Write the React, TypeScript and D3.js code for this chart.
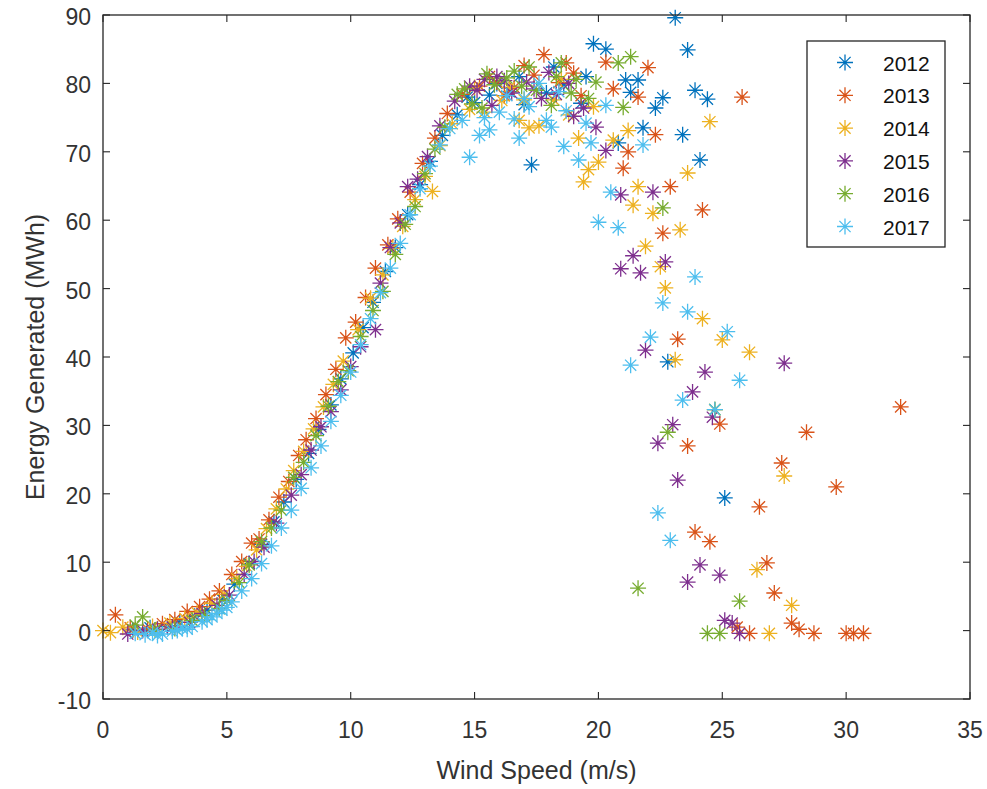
import * as d3 from "d3";
import { useEffect, useRef } from "react";

// MATLAB default colour order
const years = ["2012", "2013", "2014", "2015", "2016", "2017"];
const colors = ["#0072BD", "#D95319", "#EDB120", "#7E2F8E", "#77AC30", "#4DBEEE"];

// [wind speed m/s, energy MWh]
const s2012 = [
  [1.2, 0.1], [1.9, 0.4], [2.6, 0.6], [3.1, 1.2], [3.7, 2.1], [4.2, 3.0], [4.8, 4.6], [5.3, 6.8],
  [5.9, 9.8], [6.4, 12.6], [6.9, 15.9], [7.3, 18.8], [7.8, 22.1], [8.3, 25.9], [8.7, 29.4], [9.2, 33.0],
  [9.6, 36.8], [10.1, 40.6], [10.5, 44.3], [10.9, 48.0], [11.4, 52.5], [11.8, 56.0], [12.3, 60.8],
  [12.8, 65.2], [13.2, 68.6], [13.7, 72.4], [14.3, 75.4], [14.7, 78.0], [15.0, 77.2], [15.6, 78.3],
  [15.9, 80.0], [16.4, 78.8], [16.8, 81.0], [17.0, 76.9], [17.9, 78.6], [18.2, 82.4], [18.6, 79.8],
  [19.3, 77.1], [19.5, 81.0], [17.3, 68.1],
  [19.8, 85.8], [20.3, 85.0], [21.1, 80.5], [21.6, 80.5], [21.3, 78.7], [22.6, 77.9], [22.3, 76.4],
  [23.1, 89.6], [23.6, 84.9], [23.9, 79.0], [24.4, 77.7], [23.4, 72.5], [21.8, 73.5], [20.8, 71.3],
  [24.1, 68.8], [22.8, 39.3], [25.1, 19.4],
];
const s2013 = [
  [0.5, 2.3], [1.1, 0.4], [1.8, 0.2], [2.4, 1.0], [2.9, 1.6], [3.4, 2.8], [3.9, 3.5], [4.3, 4.6],
  [4.7, 5.8], [5.2, 8.2], [5.6, 10.1], [6.0, 12.8], [6.3, 13.4], [6.7, 16.2], [7.1, 19.5], [7.5, 21.8],
  [7.9, 25.6], [8.2, 27.9], [8.6, 31.0], [9.0, 34.5], [9.4, 38.2], [9.8, 42.8], [10.2, 45.1],
  [10.6, 48.7], [11.0, 53.0], [11.5, 56.4], [11.9, 60.2], [12.4, 64.1], [12.9, 68.3], [13.4, 72.0],
  [13.9, 75.6], [14.5, 78.4], [15.2, 79.6], [15.6, 81.0], [15.9, 80.2], [16.2, 78.2], [16.6, 79.4],
  [17.0, 82.6], [17.4, 81.2], [17.8, 84.2], [18.4, 80.1], [18.7, 83.0], [19.0, 81.5], [19.3, 78.2],
  [20.3, 83.1], [22.0, 82.3], [20.6, 79.2], [21.6, 78.0], [25.8, 78.0], [22.3, 72.5], [21.2, 70.0],
  [21.0, 67.6], [22.9, 64.9], [24.2, 61.5], [22.6, 58.1], [23.2, 42.6], [23.6, 27.0], [24.9, 30.2],
  [32.2, 32.7], [28.4, 29.0], [27.4, 24.5], [29.6, 21.0], [26.5, 18.1], [23.9, 14.4], [24.5, 13.0],
  [26.8, 9.9], [27.1, 5.5], [27.8, 1.1], [28.1, 0.2], [26.1, -0.4], [28.7, -0.4], [30.0, -0.4],
  [30.3, -0.4], [30.7, -0.4], [25.6, 0.5],
];
const s2014 = [
  [0.0, 0.0], [0.3, -0.3], [0.8, 0.5], [1.4, -0.2], [2.0, 0.6], [2.7, 1.1], [3.3, 1.8], [3.8, 2.6],
  [4.4, 4.0], [4.9, 5.3], [5.4, 7.6], [5.8, 9.4], [6.2, 11.8], [6.6, 14.9], [7.0, 17.8], [7.4, 20.7],
  [7.7, 23.4], [8.1, 26.2], [8.5, 29.5], [8.9, 32.7], [9.3, 36.0], [9.7, 39.4], [10.3, 44.0],
  [10.8, 48.6], [11.3, 52.0], [11.7, 55.9], [12.1, 59.1], [12.6, 63.0], [13.0, 66.4], [13.3, 64.2],
  [13.6, 70.9], [14.1, 74.1], [14.8, 76.2], [15.0, 79.4], [15.4, 75.8], [16.1, 77.5], [16.4, 79.4],
  [16.8, 74.6], [17.0, 77.6], [17.2, 73.5], [17.6, 73.8], [18.2, 77.6], [18.5, 80.6], [18.8, 75.4],
  [19.2, 72.0], [19.4, 65.6], [19.6, 67.4], [19.8, 76.6], [20.0, 68.5],
  [20.6, 71.7], [21.2, 73.1], [23.6, 66.9], [24.5, 74.4], [21.6, 64.9], [21.4, 62.2], [22.2, 61.0],
  [23.3, 58.6], [21.9, 56.2], [22.5, 53.2], [22.7, 50.1], [24.2, 45.6], [25.0, 42.5], [26.1, 40.7],
  [23.1, 39.6], [24.7, 32.3], [27.5, 22.6], [26.4, 8.9], [27.8, 3.7], [26.9, -0.4],
];
const s2015 = [
  [1.0, -0.5], [1.6, 0.0], [2.2, 0.2], [2.8, 0.5], [3.5, 1.2], [4.0, 2.5], [4.6, 3.7], [5.1, 5.2],
  [5.7, 8.2], [6.1, 10.1], [6.5, 12.2], [7.0, 15.7], [7.6, 19.8], [8.0, 22.8], [8.4, 26.4],
  [8.8, 29.8], [9.2, 32.0], [9.6, 35.2], [10.0, 38.6], [10.4, 41.5], [11.0, 44.0], [11.2, 50.8],
  [11.6, 56.0], [12.0, 59.6], [12.3, 64.9], [12.7, 66.0], [13.1, 69.3], [13.6, 73.8], [14.2, 77.4],
  [14.8, 79.6], [15.1, 79.0], [15.4, 80.6], [15.7, 76.8], [15.9, 81.0], [16.2, 80.4], [16.5, 78.6],
  [17.1, 80.2], [17.4, 79.2], [17.7, 77.8], [18.0, 81.6], [18.3, 78.4], [18.8, 80.0], [19.0, 75.2],
  [19.4, 76.4], [19.9, 73.6], [20.3, 70.2], [20.9, 63.7],
  [22.2, 64.1], [21.4, 54.8], [22.7, 53.9], [20.9, 52.9], [21.7, 52.3], [21.9, 41.0], [27.5, 39.1],
  [24.3, 37.8], [23.8, 34.9], [24.6, 31.2], [23.0, 30.1], [22.4, 27.4], [23.2, 22.0], [24.1, 9.6],
  [24.9, 8.1], [23.6, 7.1], [25.1, 1.5], [25.4, 1.1], [25.7, -0.4],
];
const s2016 = [
  [1.6, 2.0], [1.3, 0.8], [2.1, 0.1], [2.9, 0.3], [3.6, 1.5], [4.1, 2.2], [4.7, 3.2], [5.0, 4.4],
  [5.5, 7.0], [5.9, 9.6], [6.4, 13.0], [6.8, 15.0], [7.2, 17.6], [7.7, 22.4], [8.1, 24.6],
  [8.6, 28.5], [9.1, 32.8], [9.5, 36.4], [9.9, 38.0], [10.4, 43.0], [10.9, 46.8], [11.3, 49.6],
  [11.8, 55.0], [12.2, 59.4], [12.6, 62.0], [13.0, 66.8], [13.4, 70.4], [13.8, 73.6], [14.3, 78.4],
  [14.6, 79.2], [14.9, 77.0], [15.3, 76.4], [15.5, 81.4], [15.8, 79.8], [16.3, 80.8], [16.6, 81.8],
  [16.9, 79.6], [17.2, 82.4], [17.5, 79.0], [18.1, 76.8], [18.3, 81.0], [18.5, 83.0], [18.9, 78.6],
  [19.1, 80.6], [19.6, 77.8], [19.9, 80.2],
  [21.3, 83.9], [20.8, 83.0], [21.0, 76.5], [22.6, 61.8], [22.8, 29.0], [24.7, 32.3], [21.6, 6.2],
  [25.7, 4.3], [24.4, -0.4], [24.9, -0.4],
];
const s2017 = [
  [1.3, -0.4], [1.7, -0.6], [2.0, -0.3], [2.2, -0.7], [2.4, -0.5], [2.8, -0.1], [3.0, 0.0],
  [3.2, 0.3], [3.4, 0.2], [3.6, 0.6], [4.0, 1.3], [4.2, 1.6], [4.4, 2.0], [4.6, 2.5], [4.8, 3.0],
  [5.0, 3.4], [5.2, 4.2], [5.6, 5.8], [6.0, 7.6], [6.4, 9.8], [6.8, 12.4], [7.2, 15.0], [7.6, 17.6],
  [8.0, 20.8], [8.4, 23.8], [8.8, 27.0], [9.2, 30.6], [9.6, 34.4], [10.0, 37.8], [10.4, 41.8],
  [10.8, 45.6], [11.2, 49.4], [11.6, 53.0], [12.0, 56.6], [12.4, 60.8], [12.8, 64.6], [13.2, 67.9],
  [13.6, 71.0], [14.0, 73.4], [14.5, 74.6], [14.8, 69.2], [15.2, 72.4], [15.4, 75.0], [15.6, 73.2],
  [16.0, 75.8], [16.3, 78.2], [16.6, 74.8], [16.8, 72.0], [17.0, 77.8], [17.2, 76.6], [17.6, 80.0],
  [17.9, 74.6], [18.1, 73.6], [18.4, 78.8], [18.6, 70.8], [18.7, 76.0], [19.2, 68.8], [19.5, 74.2],
  [19.7, 71.3],
  [20.3, 76.8], [21.8, 71.0], [20.5, 64.1], [20.0, 59.7], [20.8, 58.9], [23.9, 51.7], [22.6, 47.9],
  [23.6, 46.6], [25.2, 43.7], [22.1, 42.9], [21.3, 38.8], [25.7, 36.6], [23.4, 33.7], [24.7, 32.3],
  [22.4, 17.2], [22.9, 13.2],
];
const allSeries = [s2012, s2013, s2014, s2015, s2016, s2017];

const xTicks = [0, 5, 10, 15, 20, 25, 30, 35];
const yTicks = [-10, 0, 10, 20, 30, 40, 50, 60, 70, 80, 90];

const W = 987, H = 789;
const axisColor = "#262626";
const textColor = "#333";
const font = "Arial, 'Liberation Sans', Helvetica, sans-serif";
const star = "M-8,0H8M0,-8V8M-5.6,-5.6L5.6,5.6M-5.6,5.6L5.6,-5.6";

const App = () => {
  const ref = useRef<SVGSVGElement>(null);

  useEffect(() => {
    const svg = d3.select(ref.current);
    svg.selectAll("*").remove();

    const x = d3.scaleLinear().domain([0, 35]).range([103, 970]);
    const y = d3.scaleLinear().domain([-10, 90]).range([699, 15]);
    const [x0, x1] = x.range();
    const [y0, y1] = y.range();

    svg.append("rect").attr("width", W).attr("height", H).attr("fill", "#fff");

    // points
    allSeries.forEach((pts, i) => {
      svg.append("g")
        .selectAll("path")
        .data(pts)
        .enter()
        .append("path")
        .attr("transform", (d) => `translate(${x(d[0])},${y(d[1])})`)
        .attr("d", star)
        .attr("fill", "none")
        .attr("stroke", colors[i])
        .attr("stroke-width", 1.3);
    });

    // box
    svg.append("rect")
      .attr("x", x0).attr("y", y1)
      .attr("width", x1 - x0).attr("height", y0 - y1)
      .attr("fill", "none").attr("stroke", axisColor).attr("stroke-width", 1.3);

    const tickLen = 7;
    const ticks = svg.append("g").attr("stroke", axisColor).attr("stroke-width", 1.1);
    xTicks.forEach((t) => {
      ticks.append("line").attr("x1", x(t)).attr("x2", x(t)).attr("y1", y0).attr("y2", y0 - tickLen);
      ticks.append("line").attr("x1", x(t)).attr("x2", x(t)).attr("y1", y1).attr("y2", y1 + tickLen);
    });
    yTicks.forEach((t) => {
      ticks.append("line").attr("x1", x0).attr("x2", x0 + tickLen).attr("y1", y(t)).attr("y2", y(t));
      ticks.append("line").attr("x1", x1).attr("x2", x1 - tickLen).attr("y1", y(t)).attr("y2", y(t));
    });

    svg.append("g").selectAll("text").data(xTicks).enter().append("text")
      .attr("x", (d) => x(d)).attr("y", y0 + 39)
      .attr("text-anchor", "middle")
      .style("font-family", font).style("font-size", "23px").attr("fill", textColor)
      .text((d) => d);

    svg.append("g").selectAll("text").data(yTicks).enter().append("text")
      .attr("x", x0 - 12).attr("y", (d) => y(d) + 10)
      .attr("text-anchor", "end")
      .style("font-family", font).style("font-size", "23px").attr("fill", textColor)
      .text((d) => d);

    svg.append("text")
      .attr("x", (x0 + x1) / 2).attr("y", 779)
      .attr("text-anchor", "middle")
      .style("font-family", font).style("font-size", "25px").attr("fill", textColor)
      .text("Wind Speed (m/s)");

    svg.append("text")
      .attr("transform", `translate(44,${(y0 + y1) / 2}) rotate(-90)`)
      .attr("text-anchor", "middle")
      .style("font-family", font).style("font-size", "25px").attr("fill", textColor)
      .text("Energy Generated (MWh)");

    // legend
    const lg = svg.append("g");
    lg.append("rect")
      .attr("x", 807).attr("y", 41).attr("width", 138).attr("height", 206)
      .attr("fill", "#fff").attr("stroke", axisColor).attr("stroke-width", 1.3);
    years.forEach((yr, i) => {
      const cy = 62.5 + i * 32.8;
      lg.append("path")
        .attr("transform", `translate(845,${cy})`)
        .attr("d", star).attr("fill", "none")
        .attr("stroke", colors[i]).attr("stroke-width", 1.3);
      lg.append("text")
        .attr("x", 883).attr("y", cy + 8)
        .style("font-family", font).style("font-size", "21px").attr("fill", "#111")
        .text(yr);
    });
  }, []);

  return (
    <svg
      ref={ref}
      width={W}
      height={H}
      style={{ position: "absolute", left: 0, top: 0 }}
    />
  );
};

export default App;
